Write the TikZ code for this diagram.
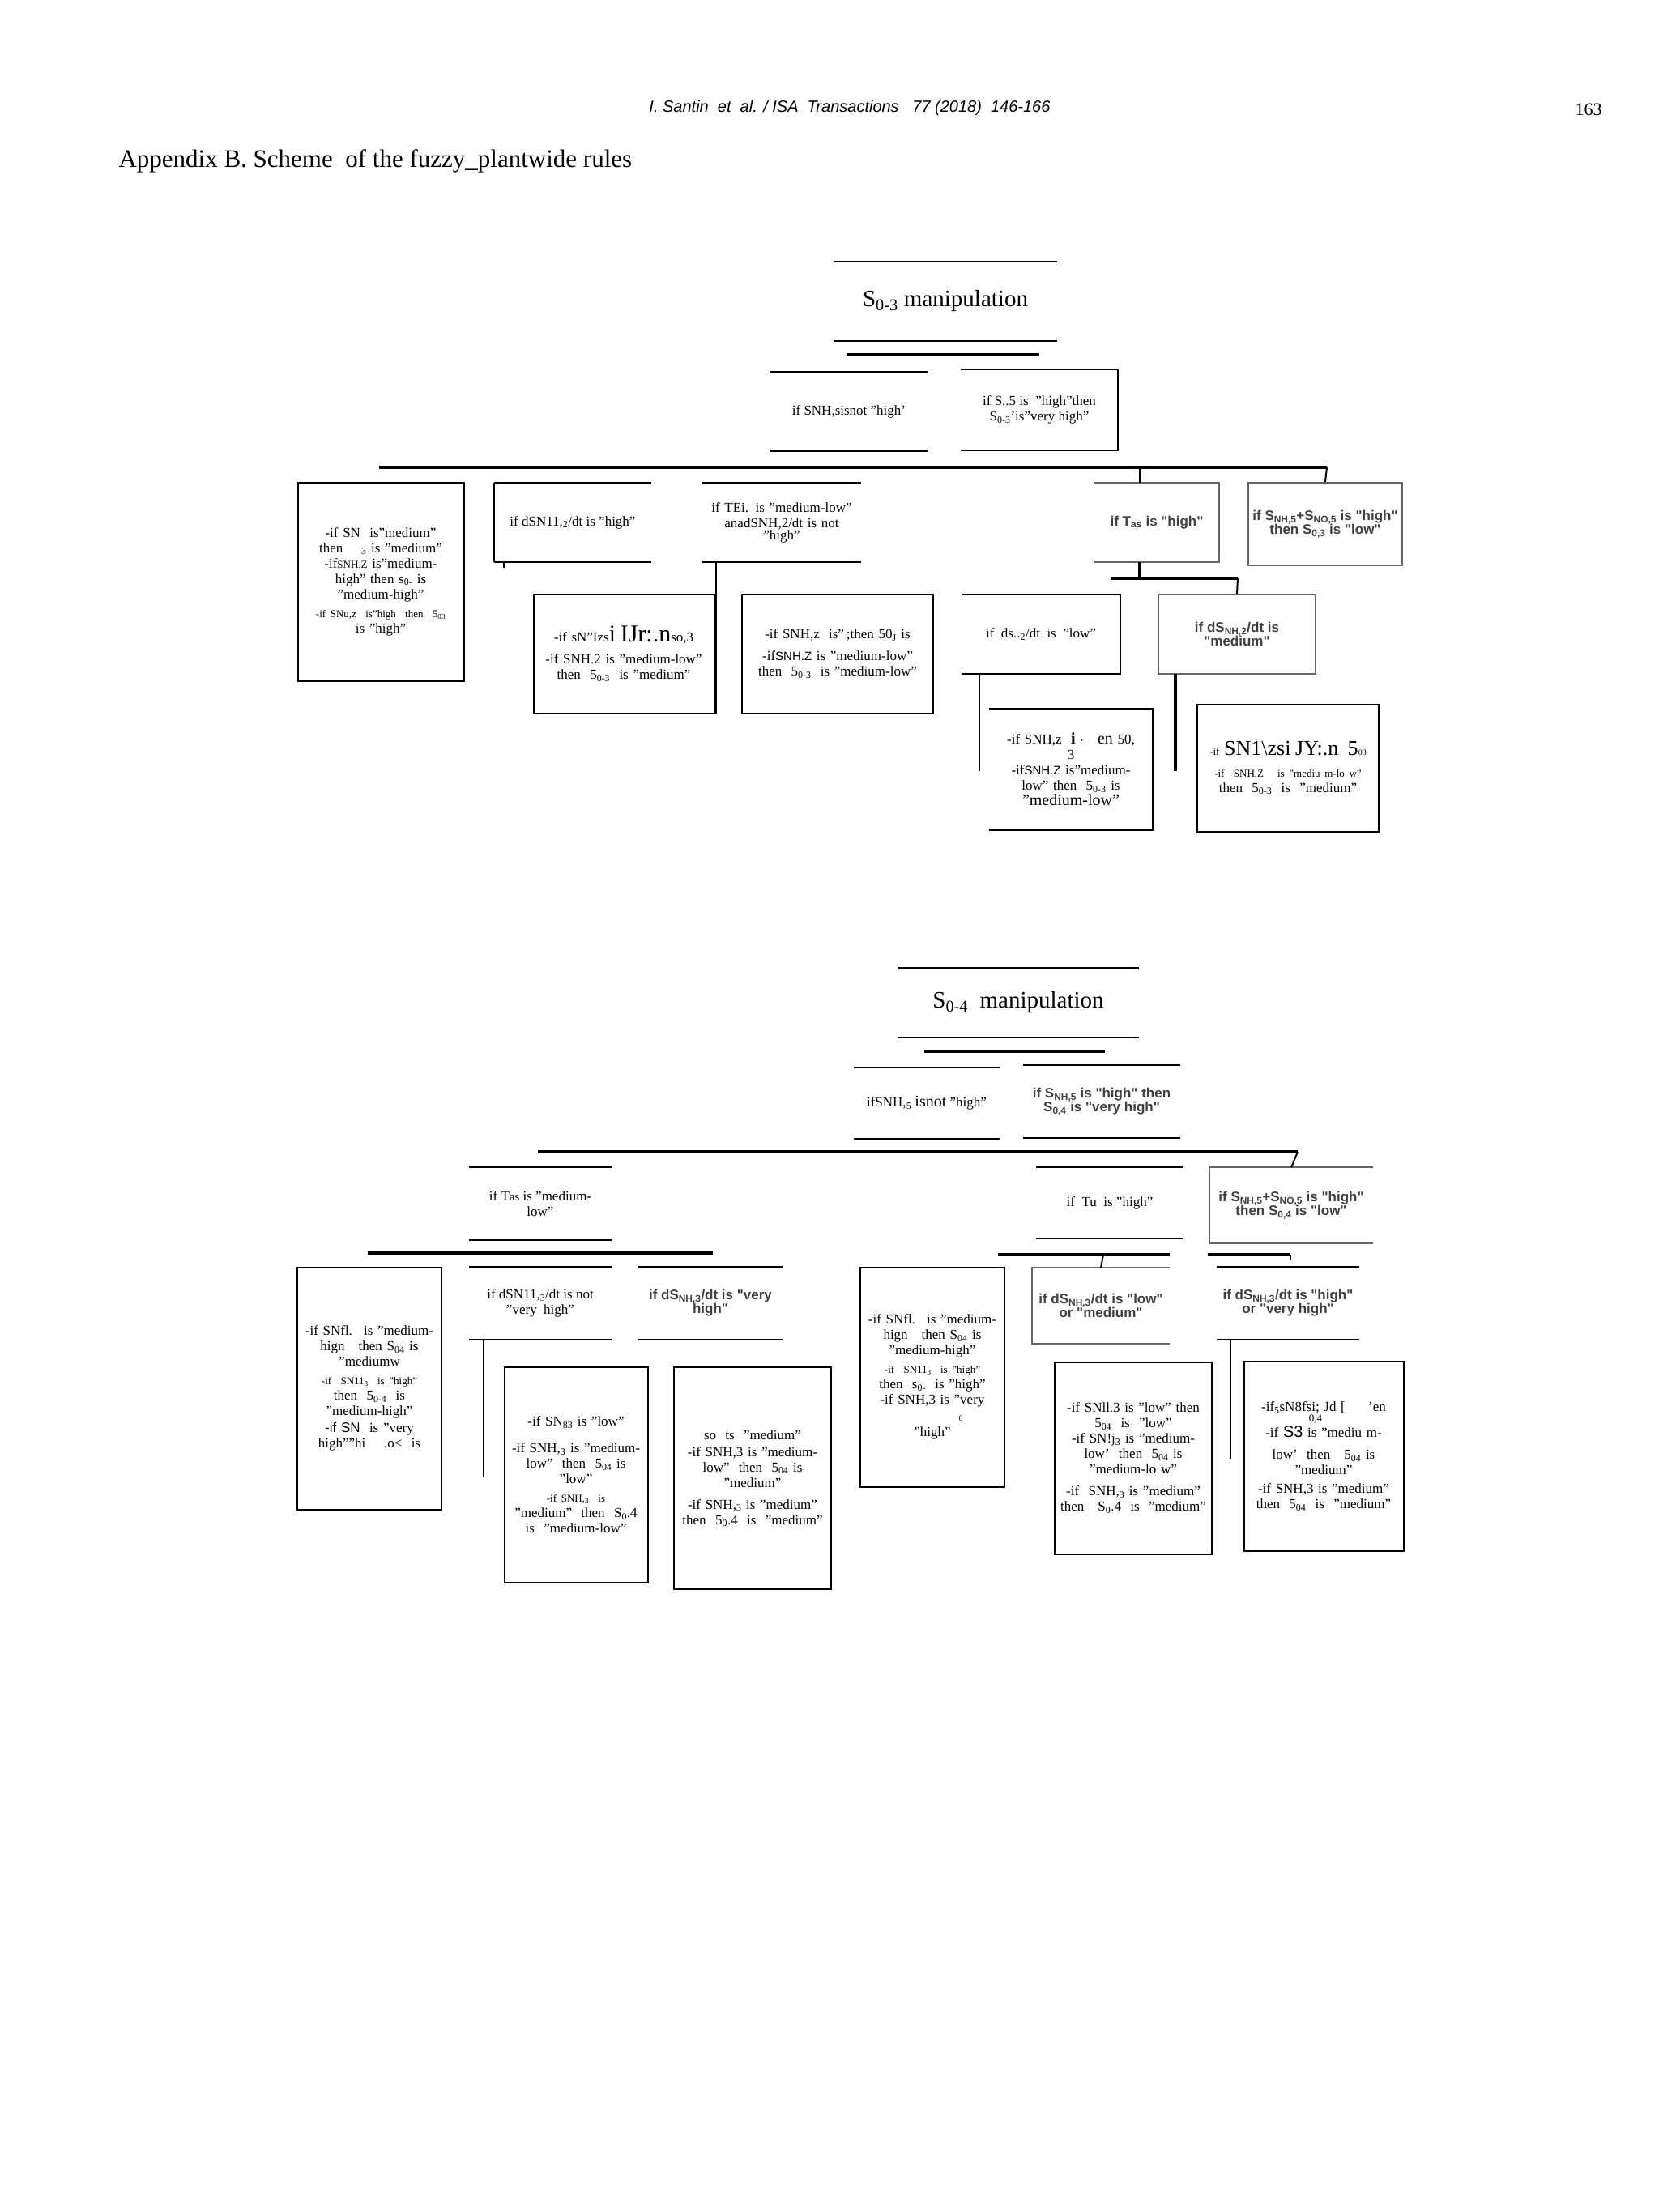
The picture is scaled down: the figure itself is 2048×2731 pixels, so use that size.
\documentclass[tikz,border=0pt]{standalone}
\usepackage{fontspec}
\setmainfont{Liberation Serif}
\newfontfamily\hsans{Liberation Sans}
\newcommand{\sbs}[1]{\textsubscript{#1}}
\newcommand{\fsm}{\fontsize{13}{15}\selectfont}
\newcommand{\fti}{\fontsize{10}{12}\selectfont}
\newcommand{\fsl}{\fontsize{15}{17}\selectfont}
\newcommand{\flg}{\fontsize{20}{22}\selectfont}
\begin{document}
\begin{tikzpicture}[x=1pt,y=-1pt,
  bx/.style={inner sep=0pt,align=center,font=\fontsize{17}{19}\selectfont},
  full/.style={bx,draw,line width=2pt},
  bold/.style={bx,text=black!75,font=\hsans\bfseries\fontsize{17}{17}\selectfont},
  thin/.style={line width=2pt},
  thick/.style={line width=4.5pt}]
\fill[white] (0,0) rectangle (2048,2731);
\useasboundingbox (0,0) rectangle (2048,2731);
\node[font=\hsans\itshape\fontsize{20}{22}\selectfont] (hd) at (1049,133) {I. Santin \ et \ al. / ISA \ Transactions \ \ 77 (2018) \ 146-166};
\node[font=\fontsize{22}{24}\selectfont] (pg) at (1961,135) {163};
\node[anchor=west,font=\fontsize{31}{33}\selectfont] (ap) at (143,199) {Appendix B. Scheme \ of the fuzzy\_plantwide rules};
% ---------- top diagram
\node[bx,minimum width=275,minimum height=98,font=\fontsize{29}{31}\selectfont] (t0) at (1167,372) {S\sbs{0-3} manipulation};
\draw[thin] (t0.north west)--(t0.north east) (t0.south west)--(t0.south east);
\draw[thick] (1046,438)--(1283,438);
\node[bx,minimum width=194,minimum height=98] (ta) at (1048,508) {if SNH,sisnot "high'};
\draw[thin] (ta.north west)--(ta.north east) (ta.south west)--(ta.south east);
\node[bx,minimum width=194,minimum height=99] (tb) at (1283,506) {if S..5 is \ "high"then\\S\sbs{0-3}'is"very high"};
\draw[thin] (tb.north west)--(tb.north east)--(tb.south east)--(tb.south west);
\coordinate (bus1l) at (468,577); \coordinate (bus1r) at (1638,577);
\draw[thick] (bus1l)--(bus1r);
\node[full,minimum width=205,minimum height=245,text width=200] (t1) at (470,718) {-if SN \ is"medium"\\then \quad \sbs{3} is "medium"\\-if{\fsm SNH.Z} is"medium-\\high" then s\sbs{0-} is\\"medium-high"\\[4pt]{\fsm -if SNu,z \ is"high \ then \ 5\sbs{03}}\\is "high"};
\node[bx,minimum width=193,minimum height=98] (t2) at (707,645) {if dSN11,\sbs{2}/dt is "high"};
\draw[thin] (t2.north west)--(t2.north east) (t2.south west)--(t2.south east) (t2.north west)--(t2.south west);
\node[bx,minimum width=195,minimum height=98,text width=195] (t3) at (965,645) {if TEi. is "medium-low"\\anadSNH,2/dt is not\\[-4pt]"high"};
\draw[thin] (t3.north west)--(t3.north east) (t3.south west)--(t3.south east);
\node[bold,minimum width=154,minimum height=98] (t4) at (1428,645) {if T\sbs{as} is "high"};
\draw[thin,black!60] (t4.north west)--(t4.north east)--(t4.south east)--(t4.south west);
\node[bold,minimum width=190,minimum height=102,draw=black!60,line width=2pt] (t5) at (1636,647) {if S\sbs{NH,5}+S\sbs{NO,5} is "high"\\then S\sbs{0,3} is "low"};
\draw[thin] (1407,577)--(1407,596) (1638,577)--(t5.north);
\draw[thin] (622,694)--(622,701);
\node[full,minimum width=223,minimum height=147,text width=219] (t6) at (770,807) {-if sN"Izs{\fontsize{30}{32}\selectfont i IJr:.n}so,3\\[8pt]-if SNH.2 is "medium-low"\\then \ 5\sbs{0-3} \ is "medium"};
\draw[thin] (884,694)--(884,881);
\node[full,minimum width=236,minimum height=147,text width=232] (t7) at (1034,807) {-if SNH,z \ is"\,;then 50\sbs{J} is\\[8pt]-if{\hsans\fsl SNH.Z} is "medium-low"\\then \ 5\sbs{0-3} \ is "medium-low"};
\node[bx,minimum width=195,minimum height=98] (t8) at (1285,783) {if \ ds..\sbs{2}/dt \ is \ "low"};
\draw[thin] (t8.north west)--(t8.north east)--(t8.south east)--(t8.south west);
\node[bold,minimum width=194,minimum height=98,draw=black!60,line width=2pt] (t9) at (1527,783) {if dS\sbs{NH,2}/dt is\\"medium"};
\draw[thick] (1407,694)--(1407,714) (1371,714)--(1528,714);
\draw[thin] (1528,714)--(t9.north);
\draw[thin] (1209,832)--(1209,952);
\draw[line width=3.5pt] (1451,832)--(1451,952);
\node[bx,minimum width=201,minimum height=150,text width=198] (t10) at (1322,950) {-if SNH,z \ {\flg\bfseries i} $\cdot$ \ \ {\flg en} 50,\\3\\-if{\hsans\fsl SNH.Z} is"medium-\\low" then \ 5\sbs{0-3} is\\{\flg"medium-low"}};
\draw[thin] (t10.north west)--(t10.north east)--(t10.south east)--(t10.south west);
\node[full,minimum width=224,minimum height=157,text width=220] (t11) at (1590,948) {{\fsm -if} {\fontsize{26}{28}\selectfont SN1\textbackslash zsi JY:.n \ 5}{\fti 03}\\[8pt]{\fsm -if \ SNH.Z \ \ is "mediu m-lo w"}\\then \ 5\sbs{0-3} \ is \ "medium"};
% ---------- bottom diagram
\node[bx,minimum width=298,minimum height=85,font=\fontsize{29}{31}\selectfont] (b0) at (1257,1238) {S\sbs{0-4} \ manipulation};
\draw[thin] (b0.north west)--(b0.north east) (b0.south west)--(b0.south east);
\draw[thick] (1141,1298)--(1364,1298);
\node[bx,minimum width=179,minimum height=88] (ba) at (1144,1362) {ifSNH,\sbs{5} {\flg isnot} "high"};
\draw[thin] (ba.north west)--(ba.north east) (ba.south west)--(ba.south east);
\node[bold,minimum width=194,minimum height=90] (bb) at (1360,1360) {if S\sbs{NH,5} is "high" then\\S\sbs{0,4} is "very high"};
\draw[thin] (bb.north west)--(bb.north east) (bb.south west)--(bb.south east);
\coordinate (bus2l) at (664,1422); \coordinate (bus2r) at (1602,1422);
\draw[thick] (bus2l)--(bus2r);
\node[bx,minimum width=176,minimum height=90] (bc) at (667,1486) {if T{\fsl as} is "medium-\\low"};
\draw[thin] (bc.north west)--(bc.north east) (bc.south west)--(bc.south east);
\node[bx,minimum width=181,minimum height=87] (bd) at (1370,1485) {if \ Tu \ is "high"};
\draw[thin] (bd.north west)--(bd.north east) (bd.south west)--(bd.south east);
\node[bold,minimum width=202,minimum height=93] (be) at (1594,1488) {if S\sbs{NH,5}+S\sbs{NO,5} is "high"\\then S\sbs{0,4} is "low"};
\draw[thin,black!60] (be.north east)--(be.north west)--(be.south west)--(be.south east);
\draw[thin] (bus2r)--(be.north);
\draw[thick] (454,1547)--(880,1547);
\draw[thick] (1232,1549)--(1444,1549) (1491,1549)--(1593,1549);
\node[full,minimum width=178,minimum height=299,text width=176] (l1) at (456,1714) {-if SNfl. \ is "medium-\\hign \ \ then S\sbs{04} is\\"mediumw\\[4pt]{\fsm -if \ SN11\sbs{3} \ is "high"}\\then \ 5\sbs{0-4} \ is\\"medium-high"\\[2pt]{\hsans -if SN} \ is "very\\high""hi \quad .o< \ is};
\node[bx,minimum width=176,minimum height=89] (l2) at (667,1609) {if dSN11,\sbs{3}/dt is not\\"very \ high"};
\draw[thin] (l2.north west)--(l2.north east) (l2.south west)--(l2.south east);
\draw[thin] (597,1653)--(597,1824);
\node[bold,minimum width=177,minimum height=89] (l3) at (877,1609) {if dS\sbs{NH,3}/dt is "very\\high"};
\draw[thin] (l3.north west)--(l3.north east) (l3.south west)--(l3.south east);
\node[full,minimum width=177,minimum height=266,text width=175] (l4) at (711,1821) {-if SN\sbs{83} is "low"\\[14pt]-if SNH,\sbs{3} is "medium-\\low" \ then \ 5\sbs{04} is\\"low"\\[4pt]{\fsm -if SNH,\sbs{3} \ is}\\"medium" \ then \ S\sbs{0}.4\\is \ "medium-low"};
\node[full,minimum width=194,minimum height=274,text width=192] (l5) at (929,1825) {so \ ts \ "medium"\\[2pt]-if SNH,3 is "medium-\\low" \ then \ 5\sbs{04} is\\"medium"\\[8pt]-if SNH,\sbs{3} is "medium"\\then \ 5\sbs{0}.4 \ is \ "medium"};
\node[full,minimum width=178,minimum height=271,text width=176] (r1) at (1151,1700) {-if SNfl. \ is "medium-\\hign \ \ then S\sbs{04} is\\"medium-high"\\[4pt]{\fsm -if \ SN11\sbs{3} \ is "high"}\\then \ s\sbs{0-} \ is "high"\\-if SNH,3 is "very\\[2pt]{\fti\hspace{70pt}0}\\"high"};
\node[bold,minimum width=170,minimum height=93] (r2) at (1359,1612) {if dS\sbs{NH,3}/dt is "low"\\or "medium"};
\draw[thin,black!60] (r2.north east)--(r2.north west)--(r2.south west)--(r2.south east);
\draw[thin] (1362,1549)--(r2.north);
\node[bold,minimum width=176,minimum height=90] (r3) at (1590,1609) {if dS\sbs{NH,3}/dt is "high"\\or "very high"};
\draw[thin] (r3.north west)--(r3.north east) (r3.south west)--(r3.south east);
\draw[thin] (1593,1549)--(1593,1556);
\draw[thin] (1519,1654)--(1519,1801);
\node[full,minimum width=194,minimum height=237,text width=192] (r4) at (1399,1800) {-if SNll.3 is "low" then\\5\sbs{04} \ is \ "low"\\-if SN!j\sbs{3} is "medium-\\low' \ then \ 5\sbs{04} is\\"medium-lo w"\\[8pt]-if \ SNH,\sbs{3} is "medium"\\then \ \ S\sbs{0}.4 \ is \ "medium"};
\node[full,minimum width=197,minimum height=234,text width=195] (r5) at (1634,1798) {-if\sbs{5}sN8fsi; Jd [ \quad \ 'en\\[-6pt]{\fsm\hspace{-20pt}0,4}\\-if {\hsans\flg S3} is "mediu m-\\[8pt]low' \ then \ \ 5\sbs{04} is\\"medium"\\[4pt]-if SNH,3 is "medium"\\then \ 5\sbs{04} \ is \ "medium"};
\end{tikzpicture}
\end{document}
